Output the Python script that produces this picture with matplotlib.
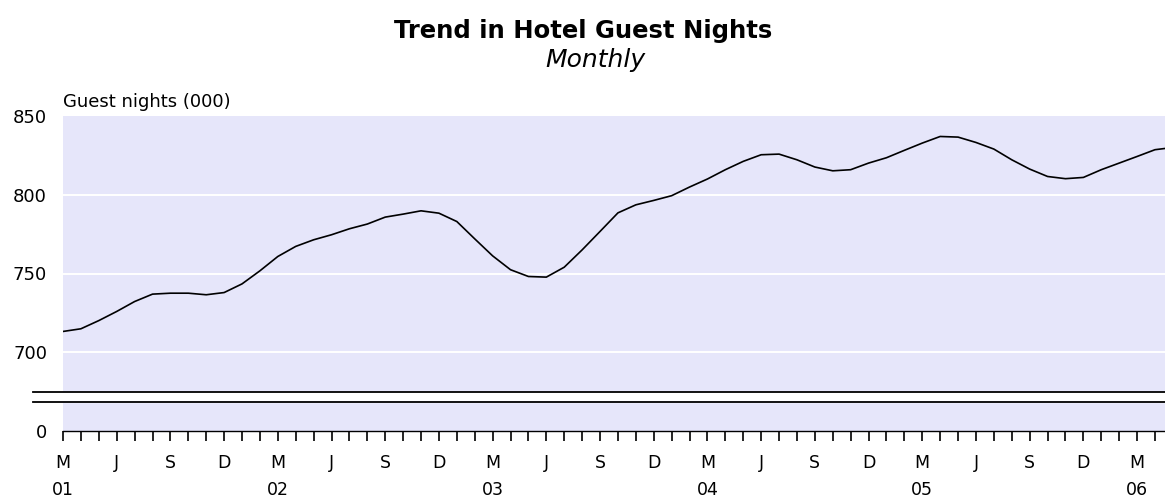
import matplotlib
matplotlib.use("Agg")
import matplotlib.pyplot as plt

# monthly trend, Mar 2001 onwards (000)
START_YEAR = 2001
START_MONTH = 3
guest_nights = [
    713.2, 714.9, 720.1, 725.9, 732.2, 736.9, 737.5, 737.5, 736.5, 737.9,
    743.4, 751.7, 760.8, 767.2, 771.4, 774.6, 778.4, 781.4, 785.8, 787.7,
    789.8, 788.3, 783.0, 772.0, 761.2, 752.4, 748.1, 747.7, 754.0, 765.0,
    776.7, 788.5, 793.6, 796.4, 799.4, 804.9, 810.0, 815.9, 821.2, 825.4,
    825.8, 822.2, 817.6, 815.2, 815.9, 820.1, 823.5, 828.2, 832.8, 837.0,
    836.6, 833.2, 829.0, 822.2, 816.3, 811.6, 810.2, 811.0, 815.9, 820.1,
    824.3, 828.6, 830.0,
]
MONTH_LETTERS = ["J", "F", "M", "A", "M", "J", "J", "A", "S", "O", "N", "D"]
LABEL_MONTHS = [3, 6, 9, 12]
y_ticks = [700, 750, 800, 850]
y_tick_labels = ["700", "750", "800", "850"]
zero_label = "0"

BG = "#E6E6FA"
FONT = "DejaVu Sans"

# y axis is broken: everything below 700 collapses onto a short stub ending at 0
Y_ZERO_POS = 650.0
BREAK_LO, BREAK_HI = 668.7, 675.0

plt.rcParams["font.family"] = FONT

fig = plt.figure(figsize=(11.65, 5.0), dpi=100)
ax = fig.add_axes([63 / 1165, 0.138, 1102 / 1165, 0.630])
ax.set_facecolor(BG)

x = list(range(len(guest_nights)))
ax.plot(x, guest_nights, color="black", linewidth=1.2, zorder=4)

for v in y_ticks[:-1]:
    ax.axhline(v, color="white", linewidth=1.4, zorder=2)

# break marks
ax.axhspan(BREAK_LO, BREAK_HI, color="white", zorder=3)
tr = ax.get_yaxis_transform()
for yb in (BREAK_LO, BREAK_HI):
    ax.plot([-0.0272, 1.0], [yb, yb], color="black", linewidth=1.3,
            transform=tr, clip_on=False, zorder=5)

ax.set_ylim(Y_ZERO_POS, 850)
ax.set_xlim(0, 61.56)

ax.set_yticks([Y_ZERO_POS] + y_ticks)
ax.set_yticklabels([zero_label] + y_tick_labels)
ax.tick_params(axis="y", length=0, pad=11.5, labelsize=13)

n_ticks = 62
labels = []
for i in range(n_ticks):
    m = (START_MONTH - 1 + i) % 12 + 1
    yr = START_YEAR + (START_MONTH - 1 + i) // 12
    if m in LABEL_MONTHS:
        lab = MONTH_LETTERS[m - 1]
        if m == START_MONTH:
            lab += "\n" + f"{yr % 100:02d}"
    else:
        lab = ""
    labels.append(lab)
ax.set_xticks(range(n_ticks))
ax.set_xticklabels(labels)
ax.tick_params(axis="x", direction="out", length=7.2, width=1.2,
               pad=9, labelsize=12.5, color="black")
for t in ax.get_xticklabels():
    t.set_linespacing(1.65)
    t.set_verticalalignment("top")

for s in ("top", "right", "left"):
    ax.spines[s].set_visible(False)
ax.spines["bottom"].set_linewidth(1.0)
ax.spines["bottom"].set_zorder(6)

fig.text(63 / 1165, 1 - 107.3 / 500, "Guest nights (000)", ha="left",
         va="baseline", fontsize=13)
fig.text(583 / 1165, 1 - 38.3 / 500, "Trend in Hotel Guest Nights",
         ha="center", va="baseline", fontsize=17.5, fontweight="bold")
fig.text(595 / 1165, 1 - 67 / 500, "Monthly", ha="center", va="baseline",
         fontsize=18, style="italic")

fig.savefig("out.png", dpi=100)
